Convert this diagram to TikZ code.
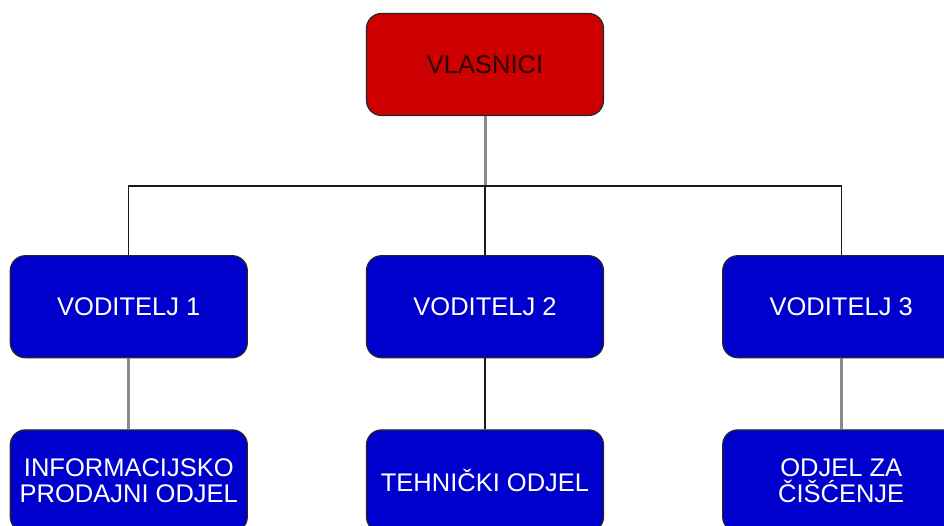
\documentclass[tikz,border=0pt]{standalone}
\usepackage{fontspec}
\newfontfamily\boxfont{Liberation Sans}
\usetikzlibrary{positioning}
\definecolor{ownerred}{HTML}{CC0000}
\definecolor{ownertext}{HTML}{2A0000}
\definecolor{headblue}{HTML}{0000CC}
\definecolor{linkgrey}{HTML}{8A8A8A}

\begin{document}
\begin{tikzpicture}[
    x=1pt, y=1pt,
    node distance=118pt,
    box/.style={draw=black!85, line width=1.2pt, rounded corners=15pt, align=center,
        minimum width=237pt, minimum height=102pt, font=\boxfont\fontsize{25.5}{26}\selectfont},
    ownerbox/.style={box, fill=ownerred, text=ownertext},
    headbox/.style={box, fill=headblue, text=white},
    link/.style={line width=1.3pt, draw=black!90},
    greylink/.style={line width=3pt, draw=linkgrey}
]
\useasboundingbox (0,0) rectangle (944,-526);
\clip (0,0) rectangle (944,-526);
\node[ownerbox] (vlasnici) at (485,-64.5) {VLASNICI};
\node[headbox, below=139pt of vlasnici] (vod2) {VODITELJ 2};
\node[headbox, left=of vod2] (vod1) {VODITELJ 1};
\node[headbox, right=of vod2] (vod3) {VODITELJ 3};
\node[headbox, below=71pt of vod1] (info) {INFORMACIJSKO\\PRODAJNI ODJEL};
\node[headbox, below=71pt of vod2] (teh) {TEHNIČKI ODJEL};
\node[headbox, below=71pt of vod3] (cisc) {ODJEL ZA\\ČIŠĆENJE};
\coordinate (bus) at (vlasnici.south |- 0,-186);
\draw[greylink] (vlasnici) -- (bus);
\draw[link] (vod1.north) |- (bus) -| (vod3.north);
\draw[link] (bus) -- (vod2.north);
\draw[greylink] (vod1) -- (info);
\draw[link] (vod2) -- (teh);
\draw[greylink] (vod3) -- (cisc);
\end{tikzpicture}
\end{document}
